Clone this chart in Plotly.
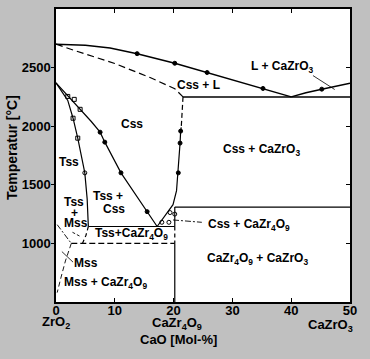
import plotly.graph_objects as go

# ---- data (mol-% CaO, temperature in °C) ----
liq_x = [0, 5, 9.2, 13.8, 20.2, 25.7, 30, 35.2, 40]
liq_T = [2700, 2690, 2668, 2619, 2537, 2458, 2395, 2322, 2250]
liq2_x = [40, 42.5, 45.2, 47.5, 50]
liq2_T = [2250, 2285, 2316, 2340, 2366]
liq_dot_x = [13.8, 20.2, 25.7, 35.2, 45.2]
liq_dot_T = [2619, 2537, 2458, 2322, 2316]
sol_x = [0, 3.2, 10, 16, 20.2, 21.6]
sol_T = [2700, 2645, 2535, 2415, 2320, 2250]
cross_x = [43.7, 47.4]
cross_T = [2432, 2313]

cssr_dash_x = [21.6, 21.4, 21.3]
cssr_dash_T = [2250, 2120, 1990]
cssr_x = [21.3, 21.2, 21.1, 20.8, 20.5, 19.9, 17.2]
cssr_T = [1990, 1958, 1856, 1602, 1450, 1330, 1144]
cssr_dot_x = [21.2, 21.1, 20.8]
cssr_dot_T = [1958, 1856, 1602]

cssl_x = [0, 2, 4, 6, 7.5, 8.3, 11.05, 15.5, 17.2]
cssl_T = [2370, 2262, 2150, 2040, 1949, 1864, 1602, 1271, 1144]
cssl_dot_x = [7.5, 8.3, 11.05, 15.5]
cssl_dot_T = [1949, 1864, 1602, 1271]

tss_x = [0, 1, 2.0, 2.9, 3.7, 4.9, 5.3, 5.5]
tss_T = [2370, 2300, 2220, 2068, 1898, 1602, 1380, 1144]
tss_low_x = [5.5, 5.1, 4.5]
tss_low_T = [1144, 1070, 1000]
sq_x = [2.0, 3.1, 4.1, 2.9, 3.7]
sq_T = [2254, 2229, 2144, 2068, 1898]
circ_x = [4.9, 18.0, 19.2, 19.4, 20.2]
circ_T = [1602, 1180, 1180, 1263, 1250]

eut_x = [21.6, 50]
eut_T = [2250, 2250]
css_cz_x = [20.2, 50]
css_cz_T = [1310, 1310]
tss_cz_x = [5.5, 20.2]
tss_cz_T = [1144, 1144]
v20_top_x = [20.2, 20.2]
v20_top_T = [1310, 1144]
v20_mid_x = [20.2, 20.2]
v20_mid_T = [1144, 1000]
v20_low_x = [20.2, 20.2]
v20_low_T = [1000, 500]
h1000_x = [2.6, 20.2]
h1000_T = [1000, 1000]
mss_up_x = [0.2, 2.6]
mss_up_T = [1160, 1000]
mss_low_x = [2.6, 1.6, 0.8, 0.2]
mss_low_T = [1000, 850, 700, 580]
short_x = [2.8, 4.3]
short_T = [1095, 1055]
lead_mss_x = [1.0, 2.9]
lead_mss_T = [930, 840]
lead_css_x = [19.9, 24.8]
lead_css_T = [1200, 1180]

x_ticks = [0, 10, 20, 30, 40, 50]
y_ticks = [1000, 1500, 2000, 2500]

labels = [
    ("L + CaZrO<sub>3</sub>", 38.4, 2505),
    ("Css + L", 24.3, 2352),
    ("Css", 12.9, 2017),
    ("Css + CaZrO<sub>3</sub>", 34.9, 1795),
    ("Tss", 2.2, 1695),
    ("Tss +", 8.9, 1402),
    ("Css", 9.9, 1292),
    ("Tss", 3.0, 1352),
    ("+", 3.2, 1263),
    ("Mss", 3.4, 1170),
    ("Tss+CaZr<sub>4</sub>O<sub>9</sub>", 12.8, 1076),
    ("Css + CaZr<sub>4</sub>O<sub>9</sub>", 32.8, 1161),
    ("CaZr<sub>4</sub>O<sub>9</sub> + CaZrO<sub>3</sub>", 34.3, 864),
    ("Mss", 5.1, 835),
    ("Mss + CaZr<sub>4</sub>O<sub>9</sub>", 8.4, 660),
]
bottom_labels = [
    ("ZrO<sub>2</sub>", 0.0, 323),
    ("CaZr<sub>4</sub>O<sub>9</sub>", 20.6, 324),
    ("CaZrO<sub>3</sub>", 46.6, 326),
]

FONT = "Liberation Sans"
fig = go.Figure()


def line(x, y, dash="solid", width=1.2):
    fig.add_trace(go.Scatter(x=x, y=y, mode="lines",
                             line=dict(color="black", width=width, dash=dash),
                             hoverinfo="skip", showlegend=False))


def marks(x, y, symbol, size=4):
    fig.add_trace(go.Scatter(x=x, y=y, mode="markers",
                             marker=dict(symbol=symbol, size=size, color="black",
                                         line=dict(color="black", width=1)),
                             hoverinfo="skip", showlegend=False))


line(liq_x, liq_T, width=1.5)
line(liq2_x, liq2_T, width=1.5)
line(cross_x, cross_T, width=0.8)
line(sol_x, sol_T, dash="7px,4px", width=1.2)
line(cssr_dash_x, cssr_dash_T, dash="5px,3px")
line(cssr_x, cssr_T)
line(cssl_x, cssl_T)
line(tss_x, tss_T)
line(tss_low_x, tss_low_T, dash="4px,3px")
line(eut_x, eut_T, width=1.5)
line(css_cz_x, css_cz_T, width=1.2)
line(tss_cz_x, tss_cz_T, width=1.2)
line(v20_top_x, v20_top_T)
line(v20_mid_x, v20_mid_T, dash="4px,3px")
line(v20_low_x, v20_low_T)
line(h1000_x, h1000_T, dash="6px,3px")
line(mss_up_x, mss_up_T, dash="6px,2px,2px,2px", width=0.9)
line(mss_low_x, mss_low_T, dash="5px,3px", width=0.9)
line(short_x, short_T, dash="3px,2px", width=0.9)
line(lead_mss_x, lead_mss_T, width=0.8)
line(lead_css_x, lead_css_T, dash="6px,2px,2px,2px", width=0.9)

marks(liq_dot_x, liq_dot_T, "circle")
marks(cssr_dot_x, cssr_dot_T, "circle")
marks(cssl_dot_x, cssl_dot_T, "circle")
marks(sq_x, sq_T, "square-open", 4)
marks(circ_x, circ_T, "circle-open", 4)

# invisible trace for the right-hand tick axis
fig.add_trace(go.Scatter(x=[0], y=[1000], yaxis="y2", mode="markers",
                         marker=dict(opacity=0), hoverinfo="skip", showlegend=False))

for txt, x, y in labels:
    fig.add_annotation(x=x, y=y, text=txt, showarrow=False,
                       xanchor="center", yanchor="middle",
                       font=dict(family=FONT, size=12, color="black", weight="bold"))

for txt, x, py in bottom_labels:
    fig.add_annotation(x=x, xref="x", y=(302 - py) / 295, yref="paper", text=txt,
                       showarrow=False, xanchor="center", yanchor="middle",
                       font=dict(family=FONT, size=13, color="black", weight="bold"))

fig.add_annotation(x=(178 - 56) / 294, xref="paper", y=(302 - 340) / 295, yref="paper",
                   text="CaO [Mol-%]", showarrow=False, xanchor="center", yanchor="middle",
                   font=dict(family=FONT, size=13, color="black", weight="bold"))
fig.add_annotation(x=(12 - 56) / 294, xref="paper", y=(302 - 147) / 295, yref="paper",
                   text="Temperatur [°C]", showarrow=False, textangle=-90,
                   xanchor="center", yanchor="middle",
                   font=dict(family=FONT, size=14, color="black", weight="bold"))

fig.update_layout(
    width=370, height=359,
    margin=dict(l=56, r=20, t=7, b=57),
    paper_bgcolor="#c0c0c0", plot_bgcolor="white",
    showlegend=False,
    xaxis=dict(range=[0, 50], tickvals=x_ticks, ticks="inside", ticklen=4,
               tickcolor="black", mirror="ticks", showline=True, linecolor="black",
               linewidth=1.5, showgrid=False, zeroline=False, ticklabelstandoff=-4,
               tickfont=dict(family=FONT, size=13, color="black", weight="bold")),
    yaxis=dict(range=[500, 3000], tickvals=y_ticks, ticks="outside", ticklen=3,
               tickcolor="black", mirror=True, showline=True, linecolor="black",
               linewidth=1.5, showgrid=False, zeroline=False, ticklabelstandoff=-2,
               tickfont=dict(family=FONT, size=13, color="black", weight="bold")),
    yaxis2=dict(range=[500, 3000], overlaying="y", side="right", tickvals=y_ticks,
                ticks="inside", ticklen=4, tickcolor="black", showticklabels=False,
                showline=False, showgrid=False, zeroline=False),
)

fig.write_html("out.html", config={"displayModeBar": False},
               post_script="document.body.style.margin='0px';"
                           "document.body.style.background='#c0c0c0';")
